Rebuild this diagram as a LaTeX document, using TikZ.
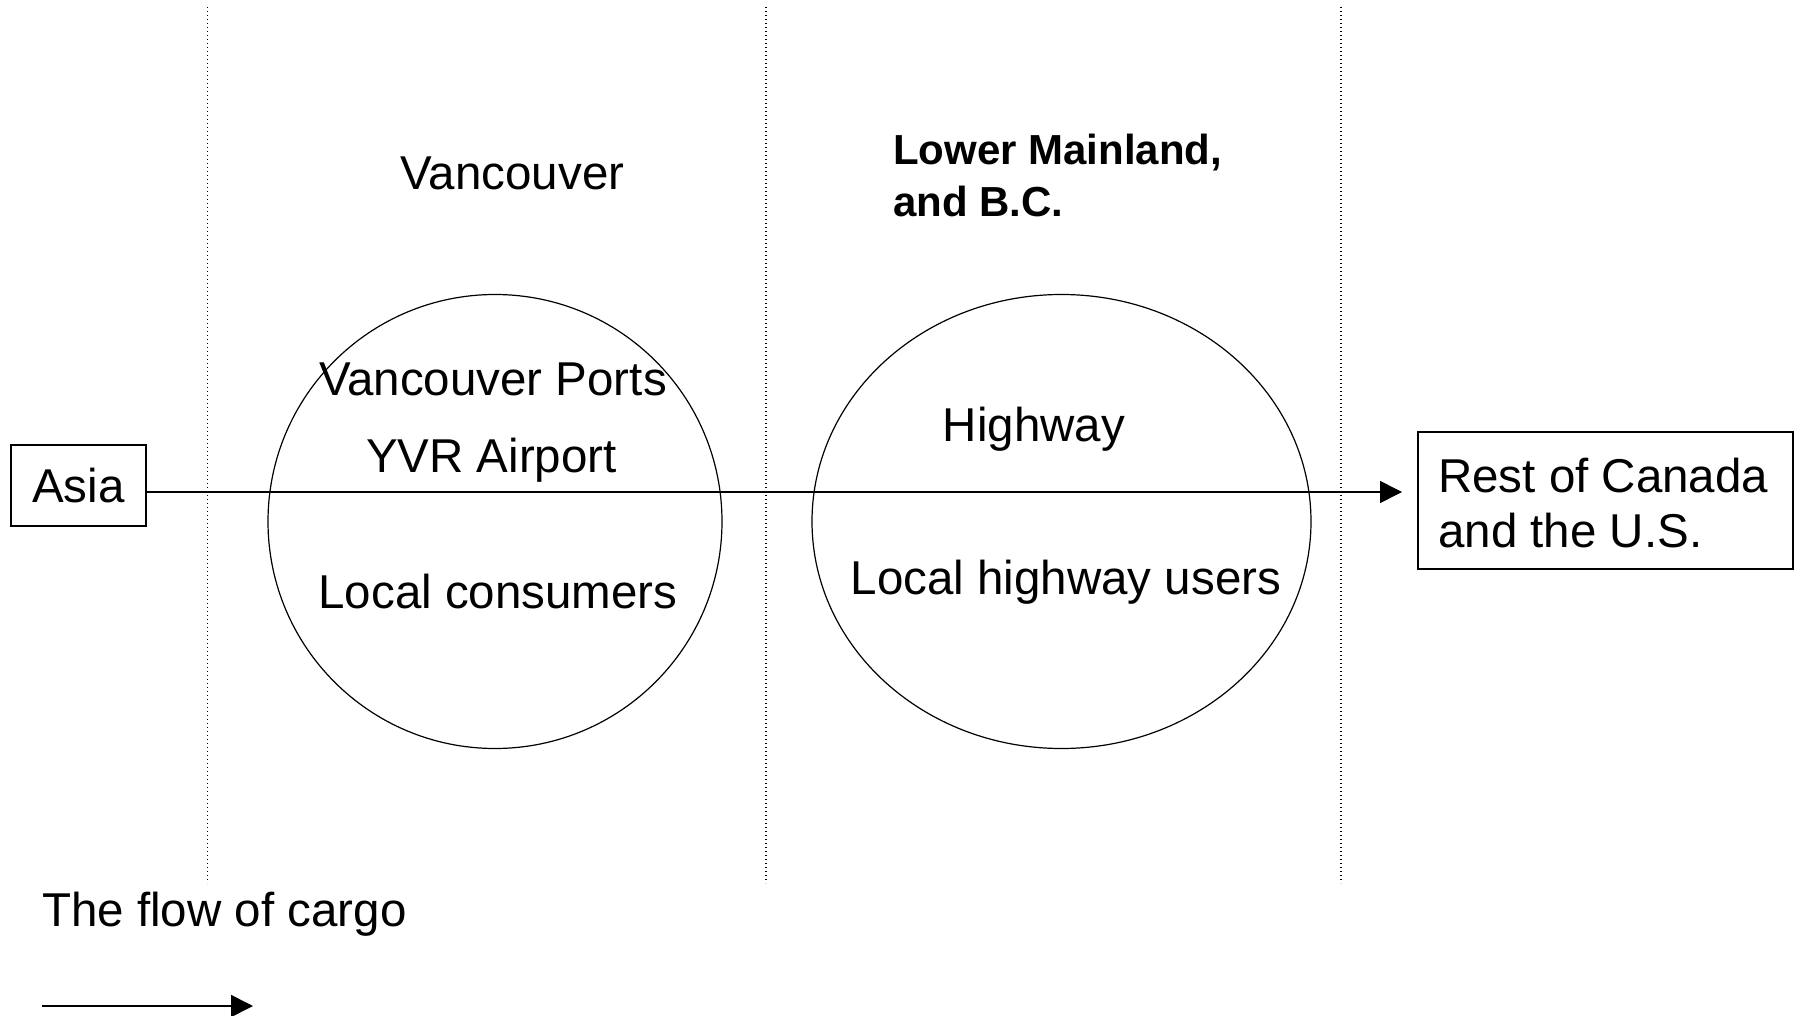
\documentclass[tikz,border=0pt]{standalone}
\usepackage{fontspec}
\setmainfont{Liberation Sans}
\usetikzlibrary{arrows.meta,shapes.geometric}

\begin{document}
\begin{tikzpicture}[x=1pt,y=-1pt,
  txt/.style={font=\fontsize{47.5}{55}\selectfont, inner sep=0pt},
  headbold/.style={font=\fontsize{42}{52}\selectfont\bfseries, inner sep=0pt},
  boxnode/.style={draw, line width=1.6pt, inner sep=0pt},
  region/.style={draw, line width=1.2pt, inner sep=0pt},
  zoneline/.style={line width=1.3pt, dash pattern=on 1.2pt off 2.8pt, black},
  flow/.style={line width=1.6pt, -{Triangle[length=22pt,width=22pt]}}
]
\useasboundingbox (0,0) rectangle (1796,1016);

% zone separators
\draw[zoneline] (207.5,7) -- (207.5,883);
\draw[zoneline] (766,7) -- (766,883);
\draw[zoneline] (1341,7) -- (1341,883);

% zone headings (multi-line nodes sit on the baseline of their last line)
\node[txt, anchor=base] (hvan) at (512.5,190) {Vancouver};
\node[headbold, anchor=base west, align=left] (hlm) at (893,217) {Lower Mainland,\\and B.C.};

% gateway regions
\node[region, circle, minimum size=454pt] (van) at (495,521.5) {};
\node[region, ellipse, minimum width=499pt, minimum height=454pt] (lm) at (1061.5,521.5) {};

\node[txt, anchor=base] (ports) at (493,395) {Vancouver Ports};
\node[txt, anchor=base] (yvr) at (491.5,472) {YVR Airport};
\node[txt, anchor=base] (cons) at (498,608) {Local consumers};
\node[txt, anchor=base] (hwy) at (1034,441) {Highway};
\node[txt, anchor=base] (users) at (1066,594) {Local highway users};

% origin and destination
\node[boxnode, txt, minimum width=135pt, minimum height=81pt] (asia) at (78.5,485.5) {Asia};
\node[boxnode, minimum width=375pt, minimum height=137pt, anchor=north west] (rest) at (1417,431) {};
\node[txt, anchor=base west, align=left] (restlbl) at (1438,547) {Rest of Canada\\and the U.S.};

% cargo flow
\coordinate (flowend) at (1402,492);
\draw[flow] (asia.east |- flowend) -- (flowend);

% legend
\node[txt, anchor=base west] (legend) at (42,926) {The flow of cargo};
\coordinate (legstart) at (42,1006);
\coordinate (legend-tip) at (253,1006);
\draw[flow] (legstart) -- (legend-tip);
\end{tikzpicture}
\end{document}
